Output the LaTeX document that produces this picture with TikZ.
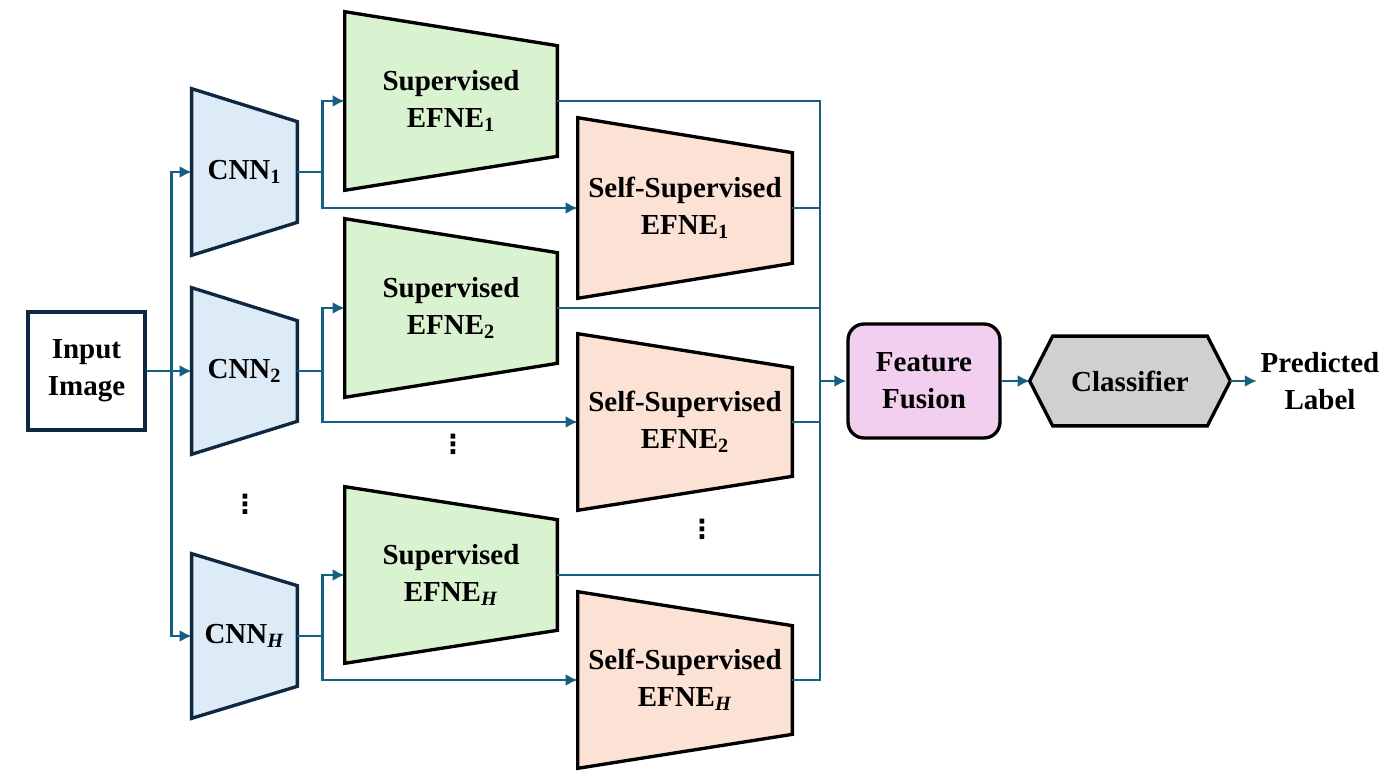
\documentclass[tikz,border=0pt]{standalone}
\usepackage{fontspec}
\setmainfont{Liberation Serif}
\newfontfamily\symfont{DejaVu Sans}
\usetikzlibrary{positioning, arrows.meta, backgrounds, calc}
\definecolor{linkblue}{HTML}{156082}
\definecolor{navy}{HTML}{0E2841}
\definecolor{cnnfill}{HTML}{DDEBF7}
\definecolor{supfill}{HTML}{D9F2D0}
\definecolor{selffill}{HTML}{FBE2D5}
\definecolor{fusefill}{HTML}{F2CEEF}
\definecolor{clsfill}{HTML}{D0D0D0}

\begin{document}
\begin{tikzpicture}[
  x=0.02cm, y=-0.02cm,
  every node/.style={font=\fontsize{16.5}{21}\selectfont\bfseries, align=center, inner sep=0pt},
  cnnbox/.style={minimum width=2.1cm, minimum height=3.32cm},
  supbox/.style={minimum width=4.24cm, minimum height=3.56cm},
  selfbox/.style={minimum width=4.28cm, minimum height=3.52cm},
  dotsmark/.style={font=\symfont\bfseries\fontsize{15}{15}\selectfont},
  outline/.style={line width=1.9pt, line join=miter},
  link/.style={draw=linkblue, line width=1.5pt},
  arrow/.style={link, -{Latex[length=2.4mm, width=2.4mm]}}
]
  \useasboundingbox (0,0) rectangle (1392,783);

  \node[draw=navy, line width=1.9pt, minimum width=2.34cm, minimum height=2.36cm] (input) at (86.5,371) {Input\\Image};

  \node[cnnbox] (cnn1) at (244.5,172) {CNN\textsubscript{1}};
  \node[cnnbox] (cnn2) at (244.5,371) {CNN\textsubscript{2}};
  \node[cnnbox, minimum height=3.28cm] (cnnH) at (244.5,636) {CNN\textsubscript{\textit{H}}};

  \node[supbox] (sup1) at (451,101) {Supervised\\EFNE\textsubscript{1}};
  \node[supbox] (sup2) at (451,308) {Supervised\\EFNE\textsubscript{2}};
  \node[supbox, minimum height=3.52cm] (supH) at (451,575) {Supervised\\EFNE\textsubscript{\textit{H}}};

  \node[selfbox, minimum height=3.6cm] (self1) at (685,208) {Self-Supervised\\EFNE\textsubscript{1}};
  \node[selfbox] (self2) at (685,422) {Self-Supervised\\EFNE\textsubscript{2}};
  \node[selfbox] (selfH) at (685,680) {Self-Supervised\\EFNE\textsubscript{\textit{H}}};

  \node[dotsmark] (dotsA) at (245,504) {⋮};
  \node[dotsmark] (dotsB) at (453,444) {⋮};
  \node[dotsmark] (dotsC) at (702,529) {⋮};

  \node[draw, line width=1.9pt, rounded corners=0.32cm, fill=fusefill, minimum width=3.04cm, minimum height=2.28cm] (fusion) at (924,381) {Feature\\Fusion};
  \node[minimum width=4cm, minimum height=1.78cm] (cls) at (1130,381) {Classifier};
  \node[inner sep=2pt] (pred) at (1320,381) {Predicted\\Label};

  \begin{pgfonlayer}{background}
    \foreach \n/\f/\e/\d in {cnn1/cnnfill/navy/0.66cm, cnn2/cnnfill/navy/0.66cm, cnnH/cnnfill/navy/0.64cm,
                             sup1/supfill/black/0.68cm, sup2/supfill/black/0.68cm, supH/supfill/black/0.66cm,
                             self1/selffill/black/0.7cm, self2/selffill/black/0.68cm, selfH/selffill/black/0.68cm}
      \draw[outline, draw=\e, fill=\f] (\n.north west) -- ([yshift=-\d]\n.north east)
        -- ([yshift=\d]\n.south east) -- (\n.south west) -- cycle;
    \draw[outline, fill=clsfill] (cls.west) -- ([xshift=0.46cm]cls.north west) -- ([xshift=-0.46cm]cls.north east)
      -- (cls.east) -- ([xshift=-0.46cm]cls.south east) -- ([xshift=0.46cm]cls.south west) -- cycle;
  \end{pgfonlayer}

  % input to the backbones
  \coordinate (split) at ($(input.east)+(25,0)$);
  \draw[arrow] (input) -- (cnn2);
  \draw[arrow] (split) |- (cnn1);
  \draw[arrow] (split) |- (cnnH);

  % each backbone feeds two encoders
  \foreach \c/\s/\t in {cnn1/sup1/self1, cnn2/sup2/self2, cnnH/supH/selfH} {
    \coordinate (\c-b) at ($(\c.east)+(25,0)$);
    \draw[link] (\c) -- (\c-b);
    \draw[arrow] (\c-b) |- (\s);
    \draw[arrow] (\c-b) |- (\t);
  }

  % collect into the fusion
  \coordinate (bus) at (820,381);
  \foreach \n in {sup1, self1, sup2, self2, supH, selfH}
    \draw[link] (\n.east) -| (bus);
  \draw[arrow] (bus) -- (fusion);
  \draw[arrow] (fusion) -- (cls);
  \draw[arrow] (cls) -- (pred);
\end{tikzpicture}
\end{document}
